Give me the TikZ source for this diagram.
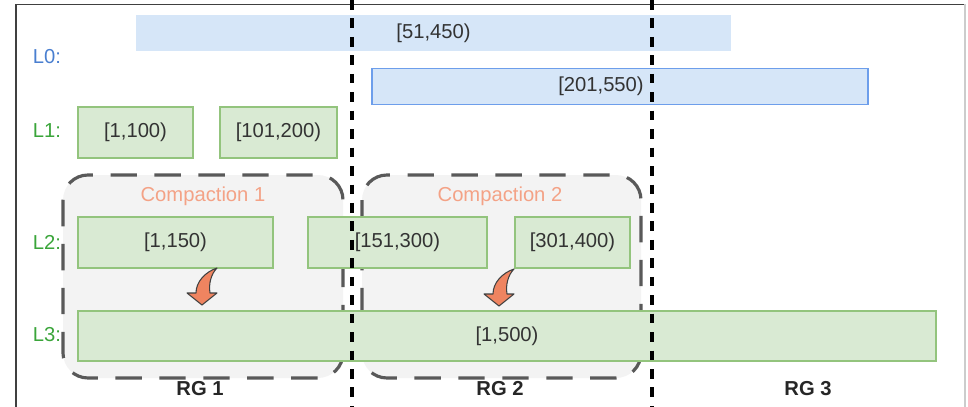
\documentclass[tikz,border=0pt]{standalone}
\usepackage{fontspec}
\setmainfont{Liberation Sans}
\usetikzlibrary{positioning}

\definecolor{gfill}{HTML}{D9EAD3}
\definecolor{gline}{HTML}{93C47D}
\definecolor{bfill}{HTML}{D6E6F8}
\definecolor{bline}{HTML}{6D9EEB}
\definecolor{lvblue}{HTML}{4A7FD0}
\definecolor{lvgreen}{HTML}{3AA53A}
\definecolor{salmon}{HTML}{F4A286}
\definecolor{arrfill}{HTML}{EF8460}
\definecolor{cpfill}{HTML}{F3F3F3}
\definecolor{txt}{HTML}{333333}

\begin{document}
\begin{tikzpicture}[every node/.style={font=\fontsize{11.5}{13}\selectfont, text=txt},
  run/.style={rectangle, draw=gline, fill=gfill, line width=0.6pt, minimum height=1.02cm, inner sep=0pt},
  mem/.style={rectangle, fill=bfill, minimum height=0.71cm, inner sep=0pt},
  lvl/.style={anchor=east, text=lvgreen, inner sep=1pt},
  cpbox/.style={draw=black!65, fill=cpfill, line width=1.8pt, rounded corners=0.5cm,
    dash pattern=on 15pt off 10pt},
  cplab/.style={text=salmon},
  rg/.style={font=\fontsize{11.5}{13}\selectfont\bfseries, text=black!85},
  sep/.style={black, line width=2pt, dash pattern=on 5.5pt off 5pt},
  merge/.pic={
    \path[fill=arrfill, draw=black!75, line width=0.6pt, line join=round]
      (0,0) -- (0.30,0.24) -- (0.16,0.24)
      .. controls (0.13,0.42) and (0.18,0.62) .. (0.30,0.74)
      .. controls (0.06,0.66) and (-0.12,0.46) .. (-0.12,0.24)
      -- (-0.30,0.24) -- cycle;
  }]
  \useasboundingbox (0,0) rectangle (19.36,-8.14);
  % frame
  \draw[black!75, line width=0.8pt] (0.32,-8.14) |- (19.3,-0.09);
  \draw[black!20, line width=0.6pt] (19.3,-0.09) -- (19.3,-8.14);

  % compaction groups
  \draw[cpbox] (1.26,-3.5) rectangle (6.86,-7.56);
  \draw[cpbox] (7.24,-3.5) rectangle (12.82,-7.56);
  \node[cplab] (cp1) at (4.06,-3.93) {Compaction 1};
  \node[cplab] (cp2) at (10.0,-3.93) {Compaction 2};

  % levels
  \node[lvl, text=lvblue] (n0) at (1.26,-1.14) {L0:};
  \node[lvl] (n1) at (1.26,-2.62) {L1:};
  \node[lvl] (n2) at (1.26,-4.84) {L2:};
  \node[lvl] (n3) at (1.26,-6.70) {L3:};

  \node[mem, minimum width=11.9cm] (m0) at (8.67,-0.66) {[51,450)};
  \node[mem, draw=bline, line width=0.6pt, minimum width=9.92cm] (m1) at (12.40,-1.73) {};
  \node (m1t) at (12.02,-1.73) {[201,550)};

  \node[run, minimum width=2.30cm] (r11) at (2.71,-2.65) {[1,100)};
  \node[run, minimum width=2.34cm] (r12) at (5.57,-2.65) {[101,200)};

  \node[run, minimum width=3.90cm] (r21) at (3.51,-4.85) {[1,150)};
  \node[run, minimum width=3.58cm] (r22) at (7.95,-4.85) {[151,300)};
  \node[run, minimum width=2.30cm] (r23) at (11.45,-4.85) {[301,400)};

  \node[run, minimum width=17.16cm, minimum height=1.0cm] (r31) at (10.14,-6.72) {[1,500)};

  \pic at (4.04,-6.10) {merge};
  \pic at (9.98,-6.12) {merge};

  % range groups
  \draw[sep] (7.04,0) -- (7.04,-8.14);
  \draw[sep] (13.04,0) -- (13.04,-8.14);
  \node[rg] (g1) at (4.0,-7.78) {RG 1};
  \node[rg] (g2) at (10.0,-7.78) {RG 2};
  \node[rg] (g3) at (16.16,-7.78) {RG 3};
\end{tikzpicture}
\end{document}
